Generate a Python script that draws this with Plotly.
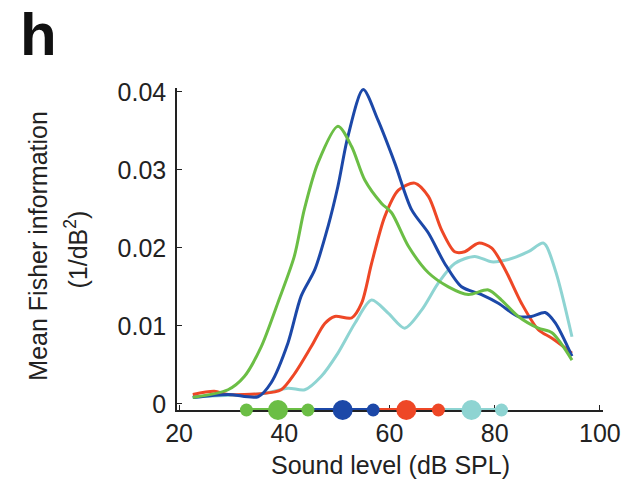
import plotly.graph_objects as go

# ---- data ----
green_x = [22.6, 29.3, 32.4, 35.6, 38.8, 41.9, 43.8, 46.4, 50.2, 52.8, 55.3, 58.5, 60.4, 63.6, 67.4, 71.2, 75.0, 78.8, 81.3, 84.5, 88.3, 90.9, 94.7]
green_y = [0.0008, 0.0018, 0.0035, 0.0073, 0.0130, 0.0189, 0.0249, 0.0309, 0.0356, 0.0330, 0.0287, 0.0257, 0.0245, 0.0202, 0.0168, 0.0150, 0.0140, 0.0146, 0.0133, 0.0112, 0.0097, 0.0091, 0.0056]

blue_x = [22.6, 29.3, 35.0, 37.5, 40.7, 43.2, 45.8, 48.3, 50.2, 52.1, 55.0, 57.8, 61.0, 64.2, 67.4, 70.5, 73.7, 77.5, 80.7, 84.5, 87.0, 89.6, 91.5, 94.7]
blue_y = [0.0008, 0.0012, 0.0009, 0.0027, 0.0078, 0.0138, 0.0172, 0.0227, 0.0279, 0.0343, 0.0403, 0.0364, 0.0309, 0.0249, 0.0219, 0.0180, 0.0150, 0.0140, 0.0129, 0.0112, 0.0112, 0.0117, 0.0104, 0.0061]

red_x = [22.6, 26.7, 29.3, 35.6, 39.4, 42.0, 45.1, 47.7, 49.6, 52.8, 54.7, 56.6, 59.1, 61.7, 64.8, 67.4, 69.9, 72.4, 74.3, 76.9, 79.4, 82.0, 85.1, 88.3, 90.9, 94.7]
red_y = [0.0012, 0.0016, 0.0012, 0.0013, 0.0018, 0.0039, 0.0073, 0.0103, 0.0112, 0.0110, 0.0129, 0.0180, 0.0240, 0.0274, 0.0283, 0.0266, 0.0223, 0.0195, 0.0195, 0.0206, 0.0200, 0.0172, 0.0129, 0.0095, 0.0084, 0.0065]

cyan_x = [22.6, 30.0, 36.0, 40.7, 43.9, 47.0, 50.2, 53.4, 56.6, 59.8, 62.9, 66.1, 69.3, 72.4, 76.2, 79.4, 82.6, 86.4, 89.3, 91.5, 94.7]
cyan_y = [0.0009, 0.0011, 0.0013, 0.0020, 0.0018, 0.0035, 0.0065, 0.0103, 0.0133, 0.0116, 0.0097, 0.0120, 0.0155, 0.0180, 0.0189, 0.0182, 0.0185, 0.0195, 0.0206, 0.0172, 0.0086]

# summary markers along the x axis (position, size class)
green_dots_x = [32.8, 38.8, 44.5]
green_dots_big = [False, True, False]
blue_dots_x = [51.1, 56.9]
blue_dots_big = [True, False]
red_dots_x = [63.2, 69.3]
red_dots_big = [True, False]
cyan_dots_x = [75.6, 81.3]
cyan_dots_big = [True, False]
green_span = [32.8, 44.5]
blue_span = [44.5, 56.9]
red_span = [56.9, 69.3]
cyan_span = [69.3, 81.3]

x_ticks = [20, 40, 60, 80, 100]
y_ticks = [0, 0.01, 0.02, 0.03, 0.04]
y_tick_labels = ["0", "0.01", "0.02", "0.03", "0.04"]

GREEN = "#6BBE45"
BLUE = "#1C48A8"
RED = "#EE4726"
CYAN = "#8ED4D2"

Y_MIN = -0.0008
Y_MAX = 0.0405

fig = go.Figure()

for xs, ys, col in [(cyan_x, cyan_y, CYAN), (red_x, red_y, RED),
                    (blue_x, blue_y, BLUE), (green_x, green_y, GREEN)]:
    fig.add_trace(go.Scatter(x=xs, y=ys, mode="lines",
                             line=dict(color=col, width=3, shape="spline", smoothing=0.8),
                             showlegend=False, hoverinfo="skip"))

# span lines along the axis
for span, col in [(green_span, GREEN), (blue_span, BLUE), (red_span, RED), (cyan_span, CYAN)]:
    fig.add_trace(go.Scatter(x=span, y=[Y_MIN, Y_MIN], mode="lines",
                             line=dict(color=col, width=4), cliponaxis=False,
                             showlegend=False, hoverinfo="skip"))

for dx, big, col in [(cyan_dots_x, cyan_dots_big, CYAN), (red_dots_x, red_dots_big, RED),
                     (blue_dots_x, blue_dots_big, BLUE), (green_dots_x, green_dots_big, GREEN)]:
    fig.add_trace(go.Scatter(x=dx, y=[Y_MIN] * len(dx), mode="markers",
                             marker=dict(color=col, size=[20 if b else 13 for b in big],
                                         opacity=1, line=dict(width=0)),
                             cliponaxis=False, showlegend=False, hoverinfo="skip"))

FONT = "Liberation Sans, Arial, sans-serif"

fig.update_layout(
    width=639, height=479,
    margin=dict(l=177, r=36, t=88, b=69),
    paper_bgcolor="white", plot_bgcolor="white",
    font=dict(family=FONT, size=25, color="#222222"),
    xaxis=dict(range=[19.6, 100.6], tickvals=x_ticks, ticks="inside", ticklen=5,
               tickcolor="#222", showline=True, linecolor="#222", linewidth=1.5,
               showgrid=False, zeroline=False, tickfont=dict(size=25),
               layer="below traces"),
    yaxis=dict(range=[Y_MIN, Y_MAX], tickvals=y_ticks, ticktext=y_tick_labels,
               ticks="inside", ticklen=5, tickcolor="#222", showline=True,
               linecolor="#222", linewidth=1.5, showgrid=False, zeroline=False,
               tickfont=dict(size=25), ticklabelstandoff=4, layer="below traces"),
    annotations=[
        dict(text="<b>h</b>", xref="paper", yref="paper", x=-0.37, y=1.272,
             xanchor="left", yanchor="top", showarrow=False, borderpad=0,
             font=dict(size=60, family=FONT, color="#111")),
        dict(text="Mean Fisher information", xref="paper", yref="paper",
             x=-0.325, y=0.509, xanchor="center", yanchor="middle", textangle=-90,
             showarrow=False, font=dict(size=25, family=FONT, color="#222")),
        dict(text="(1/dB<sup>2</sup>)", xref="paper", yref="paper",
             x=-0.236, y=0.50, xanchor="center", yanchor="middle", textangle=-90,
             showarrow=False, font=dict(size=25, family=FONT, color="#222")),
        dict(text="Sound level (dB SPL)", xref="paper", yref="paper",
             x=0.5, y=-0.171, xanchor="center", yanchor="middle", showarrow=False,
             font=dict(size=25, family=FONT, color="#222")),
    ],
)

fig.write_html("out.html")
